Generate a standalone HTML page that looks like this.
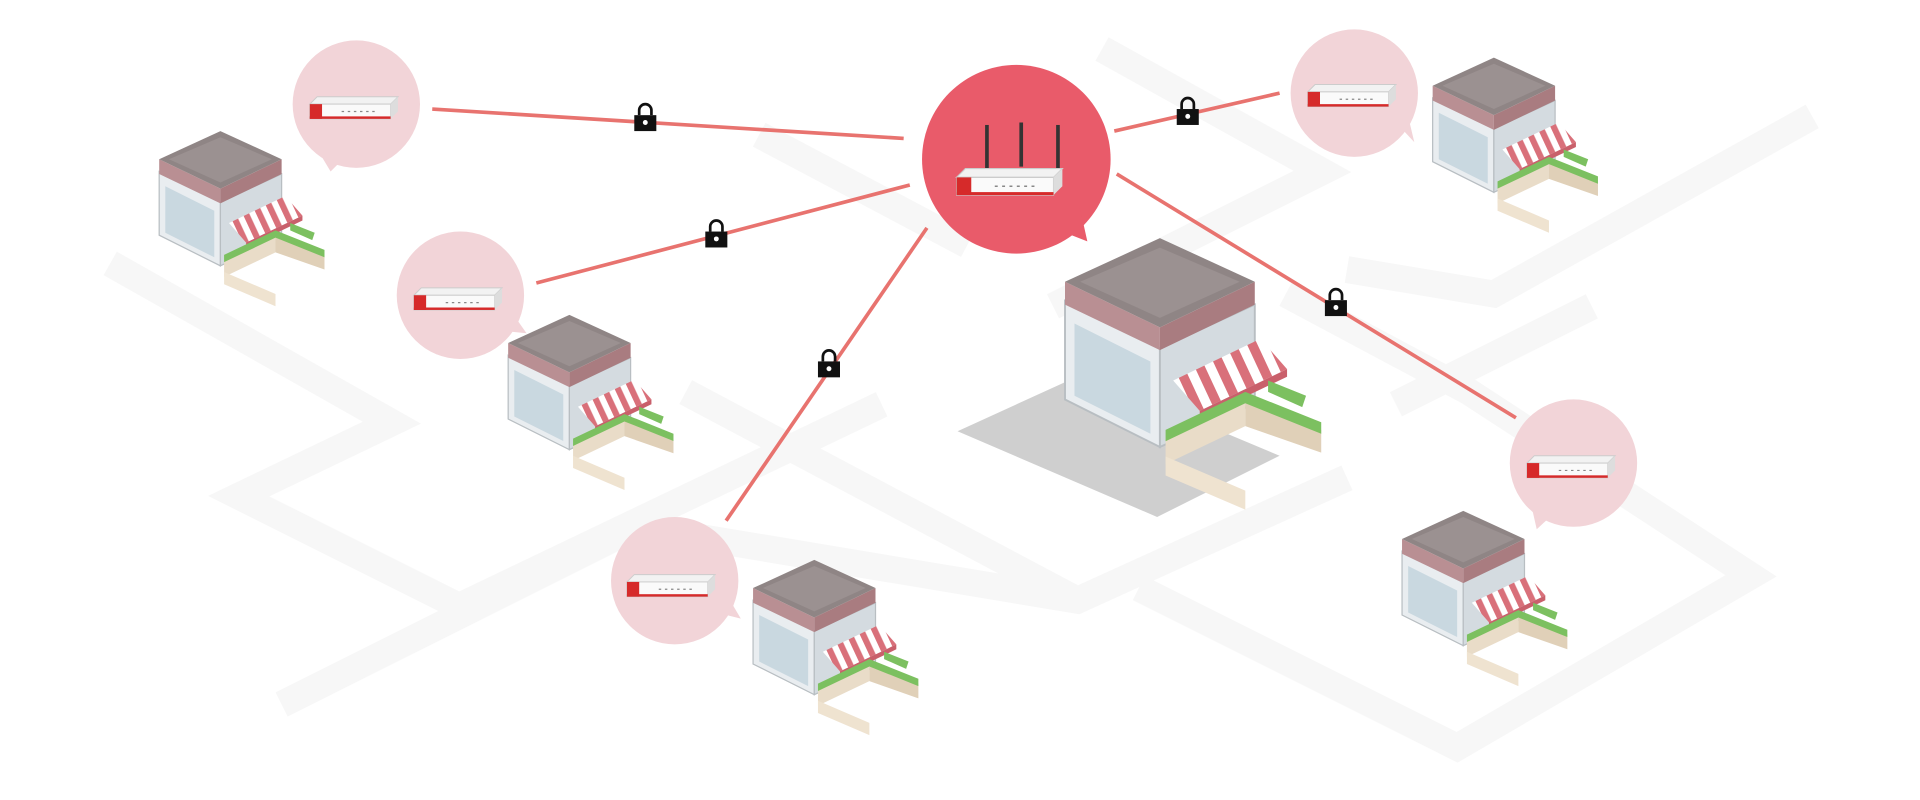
<!DOCTYPE html>
<html><head><meta charset="utf-8"><style>
html,body{margin:0;padding:0;background:#fff;}
svg{display:block;}
</style></head><body>
<svg width="1920" height="800" viewBox="0 0 1568 653" preserveAspectRatio="none" xmlns="http://www.w3.org/2000/svg">
<defs>
<pattern id="st" width="10" height="10" patternUnits="userSpaceOnUse" patternTransform="rotate(-25)">
<rect width="10" height="10" fill="#fff"/><rect width="5" height="10" fill="#d9707a"/>
</pattern>
<g id="cafe">
<polygon points="-55,-30 -5,-5 -5,47 -55,22" fill="#e9edf0" stroke="#b8bec2" stroke-width="1"/>
<polygon points="-5,-5 45,-28 45,24 -5,47" fill="#d4dbe0" stroke="#b8bec2" stroke-width="1"/>
<polygon points="-50,-18 -10,2 -10,40 -50,20" fill="#c9d8e0"/>
<polygon points="-55,-40 -5,-16 -5,-4 -55,-28" fill="#b98f93"/>
<polygon points="-5,-16 45,-40 45,-28 -5,-4" fill="#a97c80"/>
<polygon points="-55,-40 -5,-63 45,-40 -5,-16" fill="#8f8585"/>
<polygon points="-47,-40 -5,-58 37,-40 -5,-21" fill="#9b9191"/>
<polygon points="2,12 48,-10 62,6 16,28" fill="url(#st)"/>
<polygon points="16,28 62,6 62,10 16,32" fill="#c9606b"/>
<polygon points="-2,42 40,22 40,36 -2,56" fill="#e9dcc8"/>
<polygon points="40,22 80,38 80,50 40,36" fill="#e0d0b8"/>
<polygon points="-2,38 40,18 80,34 80,40 40,24 -2,44" fill="#7cc060"/>
<polygon points="52,12 72,20 70,26 52,18" fill="#7cc060"/>
<polygon points="-2,52 40,70 40,80 -2,62" fill="#efe3d0"/>
</g>
<g id="dev">
<polygon points="-34,-6 -28,-12 38,-12 32,-6" fill="#f2f2f2" stroke="#ccc" stroke-width="0.8"/>
<rect x="-34" y="-6" width="66" height="12" fill="#fafafa" stroke="#ccc" stroke-width="0.8"/>
<polygon points="32,-6 38,-12 38,0 32,6" fill="#ddd"/>
<rect x="-34" y="-6" width="10" height="12" fill="#d62a2a"/>
<rect x="-34" y="4" width="66" height="2" fill="#d62a2a"/>
<line x1="-8" y1="0" x2="22" y2="0" stroke="#888" stroke-width="1" stroke-dasharray="2,3"/>
</g>
<g id="lock">
<path d="M-5,-2 v-4 a5,5 0 0 1 10,0 v4" fill="none" stroke="#111" stroke-width="2.2"/>
<rect x="-9" y="-2" width="18" height="13" fill="#111"/>
<circle cx="0" cy="4" r="2" fill="#fff"/>
</g>
</defs>
<rect width="1568" height="653" fill="#fff"/>
<g fill="none" stroke="#f7f7f7" stroke-width="22" stroke-linejoin="miter">
<polyline points="90,215 320,345 195,405 375,495 720,330"/>
<polyline points="230,575 520,430 880,490 1100,390"/>
<polyline points="560,320 880,490"/>
<polyline points="620,110 790,200"/>
<polyline points="900,40 1080,140 860,250"/>
<polyline points="1050,240 1200,320 1430,470 1190,610 930,480"/>
<polyline points="1100,220 1220,240 1480,95"/>
<polyline points="1140,330 1300,250"/>
</g>
<g stroke="#e8736f" stroke-width="3">
<line x1="353" y1="89" x2="738" y2="113"/>
<line x1="438" y1="231" x2="743" y2="151"/>
<line x1="593" y1="425" x2="757" y2="186"/>
<line x1="910" y1="107" x2="1045" y2="76"/>
<line x1="912" y1="142" x2="1238" y2="341"/>
</g>
<use href="#lock" x="527" y="96"/>
<use href="#lock" x="585" y="191"/>
<use href="#lock" x="677" y="297"/>
<use href="#lock" x="970" y="91"/>
<use href="#lock" x="1091" y="247"/>
<g fill="#f2d4d8">
<circle cx="291" cy="85" r="52"/><polygon points="258,120 270,140 280,130"/>
<circle cx="376" cy="241" r="52"/><polygon points="410,270 430,272 418,255"/>
<circle cx="551" cy="474" r="52"/><polygon points="585,500 605,505 595,488"/>
<circle cx="1106" cy="76" r="52"/><polygon points="1140,100 1155,116 1150,95"/>
<circle cx="1285" cy="378" r="52"/><polygon points="1250,410 1255,432 1268,420"/>
</g>
<circle cx="830" cy="130" r="77" fill="#e95b6a"/>
<polygon points="870,190 888,197 882,170" fill="#e95b6a"/>
<use href="#dev" x="287" y="91"/>
<use href="#dev" x="372" y="247"/>
<use href="#dev" x="546" y="481"/>
<use href="#dev" x="1102" y="81"/>
<use href="#dev" x="1281" y="384"/>
<g stroke="#333" stroke-width="3"><line x1="806" y1="102" x2="806" y2="138"/><line x1="834" y1="100" x2="834" y2="136"/><line x1="864" y1="102" x2="864" y2="138"/></g>
<use href="#dev" transform="translate(822,152) scale(1.2)"/>
<polygon points="782,352 885,305 1045,372 945,422" fill="#cfcfcf"/>
<use href="#cafe" transform="translate(185,170)"/>
<use href="#cafe" transform="translate(470,320)"/>
<use href="#cafe" transform="translate(670,520)"/>
<use href="#cafe" transform="translate(1225,110)"/>
<use href="#cafe" transform="translate(1200,480)"/>
<use href="#cafe" transform="translate(955,292) scale(1.55)"/>
</svg>
</body></html>
